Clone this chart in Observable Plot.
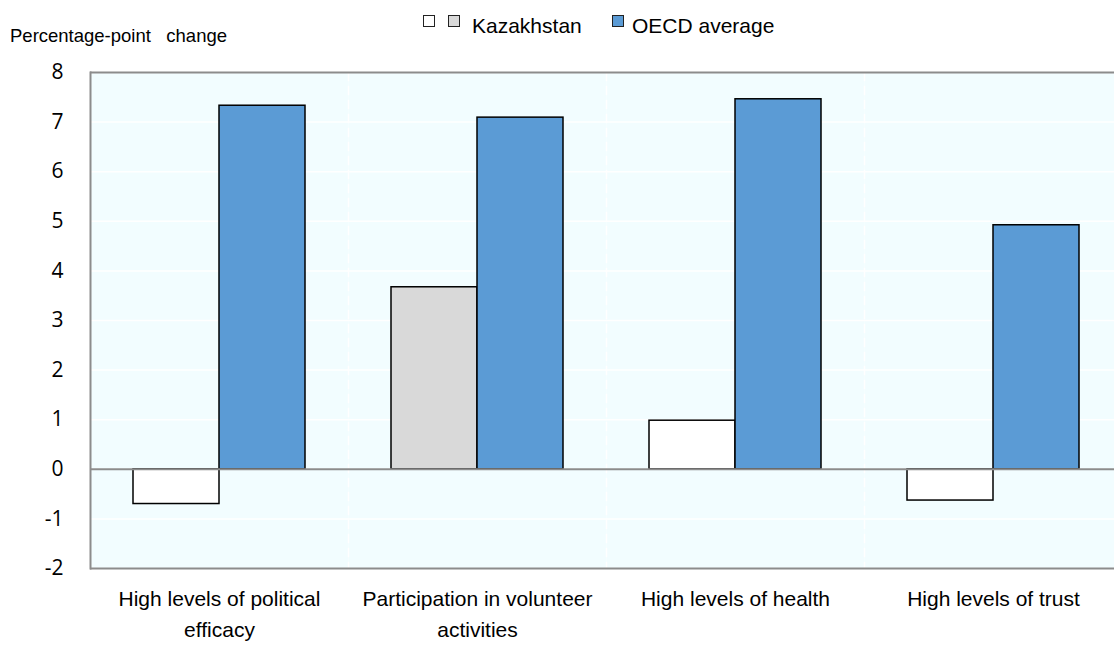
<!DOCTYPE html>
<html><head><meta charset="utf-8">
<script src="https://cdn.jsdelivr.net/npm/d3@7"></script>
<script src="https://cdn.jsdelivr.net/npm/@observablehq/plot@0.6"></script>
<style>
body{margin:0;background:#fff;overflow:hidden;}
#wrap{position:relative;width:1114px;height:647px;overflow:hidden;}
#chart{position:absolute;left:0;top:0;}
.lg{position:absolute;font:21px "Liberation Sans",Arial,sans-serif;line-height:1;white-space:pre;color:#000;}
.sw{position:absolute;width:12px;height:12px;box-sizing:border-box;border:1.5px solid #222;}
#ylab{position:absolute;left:10px;top:27px;font:18.5px "Liberation Sans",Arial,sans-serif;line-height:1;white-space:pre;color:#000;}
</style></head>
<body><div id="wrap"><div id="chart"></div>
<div id="ylab">Percentage-point   change</div>
<div class="sw" style="left:423px;top:15px;background:#fff"></div>
<div class="sw" style="left:448px;top:15px;background:#d9d9d9"></div>
<div class="lg" style="left:472px;top:15px">Kazakhstan</div>
<div class="sw" style="left:612px;top:15px;background:#5b9bd5"></div>
<div class="lg" style="left:632px;top:15px">OECD average</div>
</div>
<script>
const categories = ["High levels of political efficacy", "Participation in volunteer activities", "High levels of health", "High levels of trust"];
const categoryLabels = ["High levels of political\nefficacy", "Participation in volunteer\nactivities", "High levels of health", "High levels of trust"];
const series = ["Kazakhstan", "OECD average"];
const kazakhstan = [-0.70, 3.67, 0.98, -0.63];
const oecd = [7.33, 7.09, 7.46, 4.92];
const kazSignificant = [false, true, false, false];
const yTicks = [-2, -1, 0, 1, 2, 3, 4, 5, 6, 7, 8];

const colors = {kazNS: "#ffffff", kazS: "#d9d9d9", oecd: "#5b9bd5"};
const data = categories.flatMap((c, i) => [
  {category: c, series: series[0], value: kazakhstan[i], fill: kazSignificant[i] ? colors.kazS : colors.kazNS},
  {category: c, series: series[1], value: oecd[i], fill: colors.oecd}
]);
const labelOf = new Map(categories.map((c, i) => [c, categoryLabels[i]]));

const chart = Plot.plot({
  width: 1114, height: 647,
  marginTop: 72, marginBottom: 79, marginLeft: 90, marginRight: -8,
  style: {fontFamily: "Liberation Sans, Arial, sans-serif", background: "transparent", color: "#000"},
  fx: {domain: categories, padding: 0, label: null},
  x: {domain: series, paddingInner: 0, paddingOuter: 0.5, axis: null},
  y: {domain: [-2, 8], label: null},
  color: {type: "identity"},
  marks: [
    Plot.frame({fill: "#f2fdff", stroke: null}),
    Plot.gridY(yTicks, {stroke: "#ffffff", strokeOpacity: 1, strokeWidth: 1.5}),
    Plot.frame({anchor: "right", stroke: "#ffffff", strokeOpacity: 1, strokeWidth: 1.5, strokeDasharray: "8,6"}),
    Plot.ruleY([yTicks[0], yTicks[yTicks.length - 1]], {stroke: "#8c8c8c", strokeWidth: 2}),
    Plot.frame({anchor: "left", stroke: "#8c8c8c", strokeWidth: 2, facetAnchor: "left"}),
    Plot.barY(data, {fx: "category", x: "series", y: "value", fill: "fill", stroke: "#000", strokeWidth: 1.5}),
    Plot.ruleY([0], {stroke: "#8c8c8c", strokeWidth: 2}),
    Plot.axisY(yTicks, {tickSize: 0, tickPadding: 27, fontSize: 21, fontFamily: "Open Sans", fill: "#000", label: null, tickFormat: d => String(d)}),
    Plot.axisFx({anchor: "bottom", tickSize: 0, tickPadding: 16, fontSize: 21, lineHeight: 1.45, fill: "#000", label: null, tickFormat: d => labelOf.get(d)})
  ]
});
document.getElementById("chart").appendChild(chart);
</script>
</body></html>
